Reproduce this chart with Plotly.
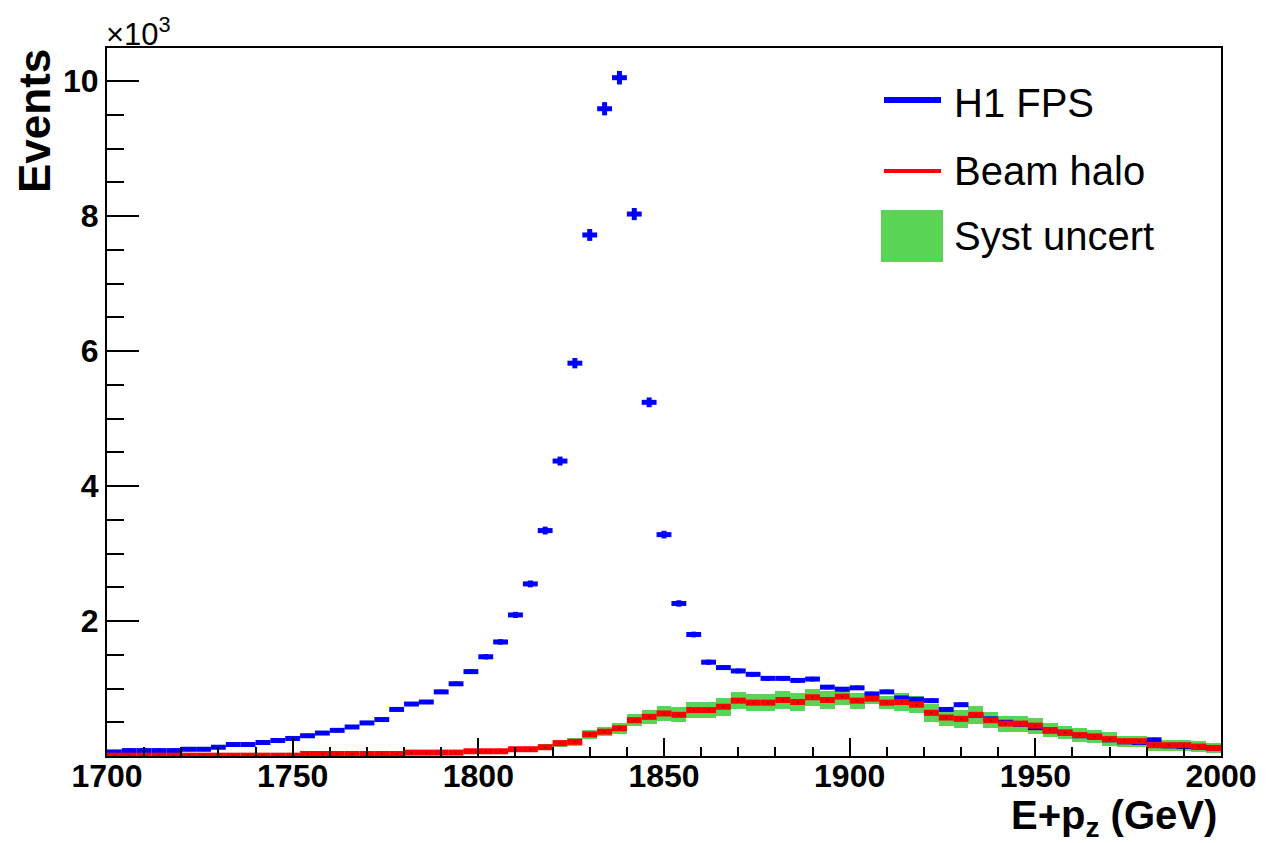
import numpy as np
import plotly.graph_objects as go

# ---------------- data (Events in units of 10^3) ----------------
bin_width = 4  # GeV
e_pz = list(range(1702, 2000, 4))  # bin centres, 1700-2000 GeV

h1_fps = [0.06, 0.08, 0.08, 0.08, 0.08, 0.10, 0.10, 0.13, 0.17, 0.17,
          0.20, 0.23, 0.26, 0.30, 0.34, 0.38, 0.43, 0.49, 0.54, 0.69,
          0.77, 0.80, 0.95, 1.07, 1.25, 1.47, 1.69, 2.09, 2.55, 3.34,
          4.37, 5.82, 7.72, 9.59, 10.05, 8.03, 5.24, 3.28, 2.26, 1.80,
          1.39, 1.31, 1.26, 1.21, 1.15, 1.15, 1.12, 1.14, 1.02, 0.99,
          1.01, 0.92, 0.95, 0.86, 0.84, 0.82, 0.69, 0.76, 0.60, 0.55,
          0.50, 0.47, 0.42, 0.37, 0.34, 0.30, 0.28, 0.24, 0.21, 0.20,
          0.24, 0.15, 0.14, 0.13, 0.11]

beam_halo = [0.005, 0.005, 0.005, 0.005, 0.005, 0.005, 0.005, 0.005, 0.005, 0.005,
             0.005, 0.005, 0.005, 0.03, 0.03, 0.03, 0.03, 0.03, 0.03, 0.03,
             0.05, 0.05, 0.05, 0.05, 0.07, 0.07, 0.07, 0.10, 0.10, 0.13,
             0.19, 0.21, 0.32, 0.36, 0.41, 0.53, 0.58, 0.63, 0.61, 0.68,
             0.68, 0.73, 0.82, 0.79, 0.79, 0.83, 0.80, 0.87, 0.83, 0.88,
             0.82, 0.85, 0.79, 0.80, 0.76, 0.64, 0.57, 0.55, 0.61, 0.53,
             0.48, 0.48, 0.45, 0.385, 0.35, 0.31, 0.29, 0.25, 0.22, 0.22,
             0.16, 0.16, 0.16, 0.14, 0.12]

syst_uncert = [0.0, 0.0, 0.0, 0.0, 0.0, 0.0, 0.0, 0.0, 0.0, 0.0,
               0.0, 0.0, 0.0, 0.02, 0.02, 0.02, 0.02, 0.02, 0.02, 0.02,
               0.025, 0.025, 0.025, 0.025, 0.03, 0.03, 0.03, 0.04, 0.04, 0.045,
               0.05, 0.055, 0.065, 0.07, 0.08, 0.09, 0.10, 0.11, 0.11, 0.12,
               0.12, 0.13, 0.13, 0.13, 0.13, 0.13, 0.13, 0.13, 0.13, 0.13,
               0.12, 0.08, 0.10, 0.13, 0.13, 0.13, 0.13, 0.13, 0.13, 0.12,
               0.12, 0.12, 0.12, 0.10, 0.10, 0.10, 0.10, 0.10, 0.08, 0.08,
               0.08, 0.08, 0.08, 0.08, 0.08]

x_major = [1700, 1750, 1800, 1850, 1900, 1950, 2000]
y_major = [2, 4, 6, 8, 10]
y_labels = ["2", "4", "6", "8", "10"]

BLUE = "#0000ff"
RED = "#ff0000"
GREEN = "#59d454"
FONT = "Liberation Sans, Arial, Helvetica, sans-serif"

# ---------------- geometry helpers (pixel -> paper) ----------------
W, H = 1274, 843
L, R, T, B = 107, 1221, 48, 756


def px(x):
    return (x - L) / (R - L)


def py(y):
    return (B - y) / (B - T)


fig = go.Figure()

# H1 FPS data with statistical errors
stat = [np.sqrt(v * 1000.0) / 1000.0 for v in h1_fps]
fig.add_trace(go.Scatter(
    x=e_pz, y=h1_fps, mode="markers",
    marker=dict(size=4, color=BLUE, symbol="square"),
    error_x=dict(type="constant", value=bin_width / 2, thickness=5, width=0, color=BLUE),
    error_y=dict(type="data", array=stat, thickness=5, width=0, color=BLUE),
    cliponaxis=False, showlegend=False,
))

# systematic uncertainty band
fig.add_trace(go.Bar(
    x=e_pz, y=[2 * s for s in syst_uncert],
    base=[b - s for b, s in zip(beam_halo, syst_uncert)],
    width=bin_width, marker=dict(color=GREEN, line=dict(width=0)),
    showlegend=False,
))

# beam halo
fig.add_trace(go.Scatter(
    x=e_pz, y=beam_halo, mode="markers",
    marker=dict(size=1.5, color="#400000"),
    error_x=dict(type="constant", value=bin_width / 2, thickness=6, width=0, color=RED),
    cliponaxis=False, showlegend=False,
))

axis_common = dict(
    showline=True, linecolor="black", linewidth=2, mirror=True,
    showgrid=False, zeroline=False, ticks="inside", tickcolor="black",
    tickwidth=1.5, tickfont=dict(family=FONT, size=32, color="black", weight="bold"),
)

fig.update_xaxes(
    range=[1700, 2000], tickmode="array", tickvals=x_major,
    ticklen=18, ticklabelstandoff=-9,
    minor=dict(ticks="inside", ticklen=9, dtick=10, tick0=1700,
               tickcolor="black", tickwidth=1.5, showgrid=False),
    **axis_common,
)
fig.update_yaxes(
    range=[0, 10.49], tickmode="array", tickvals=y_major, ticktext=y_labels,
    ticklen=32,
    minor=dict(ticks="inside", ticklen=17, dtick=0.5, tick0=0,
               tickcolor="black", tickwidth=1.5, showgrid=False),
    **axis_common,
)

annotations = [
    dict(text="Events", x=px(35), y=py(47), xref="paper", yref="paper",
         xanchor="center", yanchor="top", textangle=-90, showarrow=False,
         font=dict(family=FONT, size=44, color="black", weight="bold")),
    dict(text="\u00d710<sup>3</sup>", x=px(104), y=py(32), xref="paper", yref="paper",
         xanchor="left", yanchor="middle", showarrow=False,
         font=dict(family=FONT, size=31, color="black")),
    dict(text="E+p<sub>z</sub> (GeV)", x=px(1219), y=py(791), xref="paper", yref="paper",
         xanchor="right", yanchor="top", showarrow=False,
         font=dict(family=FONT, size=40, color="black", weight="bold")),
    dict(text="H1 FPS", x=px(952), y=py(103), xref="paper", yref="paper",
         xanchor="left", yanchor="middle", showarrow=False,
         font=dict(family=FONT, size=40, color="black")),
    dict(text="Beam halo", x=px(952), y=py(171), xref="paper", yref="paper",
         xanchor="left", yanchor="middle", showarrow=False,
         font=dict(family=FONT, size=40, color="black")),
    dict(text="Syst uncert", x=px(952), y=py(236), xref="paper", yref="paper",
         xanchor="left", yanchor="middle", showarrow=False,
         font=dict(family=FONT, size=40, color="black")),
]

shapes = [
    dict(type="line", xref="paper", yref="paper", x0=px(884), x1=px(941),
         y0=py(100), y1=py(100), line=dict(color=BLUE, width=6)),
    dict(type="line", xref="paper", yref="paper", x0=px(884), x1=px(941),
         y0=py(171), y1=py(171), line=dict(color=RED, width=4)),
    dict(type="rect", xref="paper", yref="paper", x0=px(881), x1=px(943),
         y0=py(262), y1=py(210), fillcolor=GREEN, line=dict(width=0)),
]

fig.update_layout(
    width=W, height=H,
    margin=dict(l=L, r=W - R, t=T, b=H - B),
    plot_bgcolor="white", paper_bgcolor="white",
    showlegend=False, bargap=0,
    font=dict(family=FONT, color="black"),
    annotations=annotations, shapes=shapes,
)

fig.write_html("out.html")
